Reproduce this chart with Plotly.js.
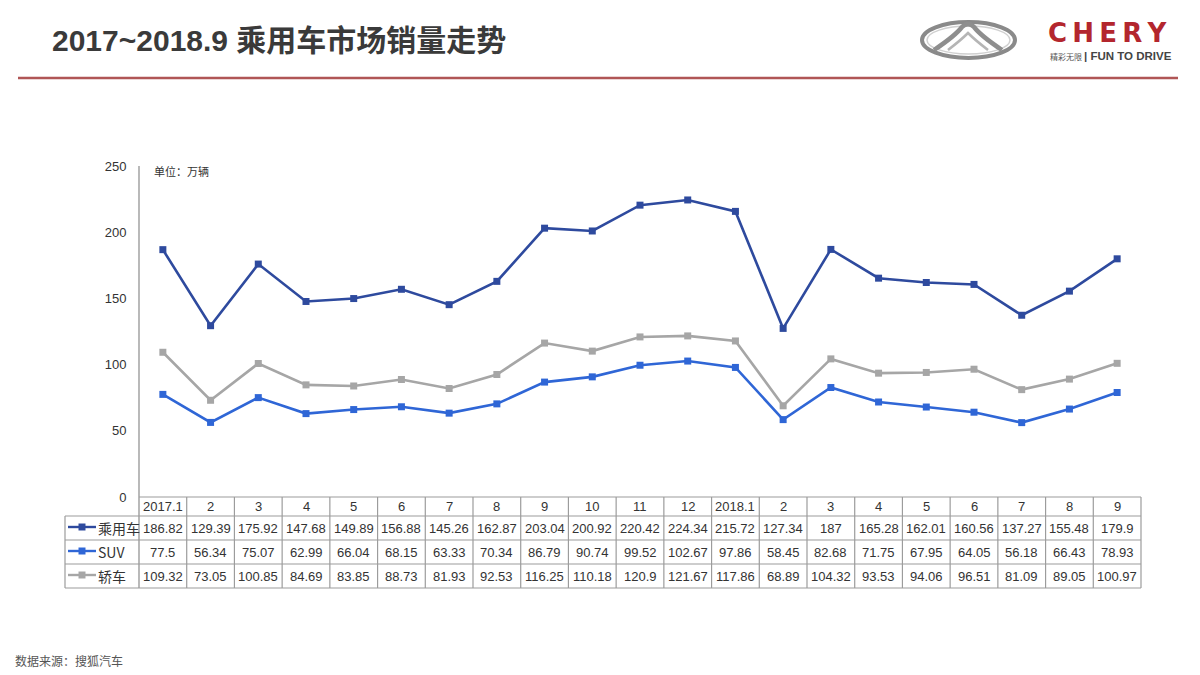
<!DOCTYPE html>
<html>
<head>
<meta charset="utf-8">
<script src="https://cdn.plot.ly/plotly-3.0.1.min.js"></script>
<style>
html,body{margin:0;padding:0;background:#fff;}
#chart{width:1200px;height:675px;}
</style>
</head>
<body>
<div id="chart"></div>
<script>
// ---- data ----
const categories = ["2017.1","2","3","4","5","6","7","8","9","10","11","12","2018.1","2","3","4","5","6","7","8","9"];
const seriesNames = ["乘用车","SUV","轿车"];
const passenger = [186.82,129.39,175.92,147.68,149.89,156.88,145.26,162.87,203.04,200.92,220.42,224.34,215.72,127.34,187,165.28,162.01,160.56,137.27,155.48,179.9];
const suv = [77.5,56.34,75.07,62.99,66.04,68.15,63.33,70.34,86.79,90.74,99.52,102.67,97.86,58.45,82.68,71.75,67.95,64.05,56.18,66.43,78.93];
const sedan = [109.32,73.05,100.85,84.69,83.85,88.73,81.93,92.53,116.25,110.18,120.9,121.67,117.86,68.89,104.32,93.53,94.06,96.51,81.09,89.05,100.97];
const yTicks = [0,50,100,150,200,250];

// ---- layout geometry (pixels) ----
const W = 1200, H = 675;
const ML = 139, MR = 59, MT = 166, MB = 178;
const PW = W - ML - MR, PH = H - MT - MB;
const X = px => (px - ML) / PW;          // pixel -> paper x
const Y = py => (MT + PH - py) / PH;     // pixel -> paper y

const colors = ["#2E4A9E", "#2F66D6", "#A6A6A6"];
const seriesData = [passenger, suv, sedan];
const xIdx = categories.map((_, i) => i);
const FONT = "'Liberation Sans', Arial, 'Noto Sans CJK SC', sans-serif";

const traces = seriesData.map((vals, k) => ({
  type: "scatter", mode: "lines+markers", name: seriesNames[k],
  x: xIdx, y: vals,
  line: {color: colors[k], width: 2.6},
  marker: {symbol: "square", size: 7, color: colors[k]},
  hoverinfo: "skip"
}));

const shapes = [];
const annotations = [];
const gridColor = "#9C9C9C";

// table row boundaries (pixels)
const rowTop = 497, headBot = 516, rowH = 24;
const rowBounds = [headBot, headBot + rowH, headBot + 2*rowH, headBot + 3*rowH];
const tableLeft = 65;

// horizontal lines
shapes.push({type:"line", xref:"paper", yref:"paper", x0:0, x1:1, y0:Y(rowTop), y1:Y(rowTop), line:{color:gridColor, width:1.2}});
rowBounds.forEach(py => {
  shapes.push({type:"line", xref:"paper", yref:"paper", x0:X(tableLeft), x1:1, y0:Y(py), y1:Y(py), line:{color:gridColor, width:1.2}});
});
// vertical lines: outer
shapes.push({type:"line", xref:"paper", yref:"paper", x0:X(tableLeft), x1:X(tableLeft), y0:Y(headBot), y1:Y(rowBounds[3]), line:{color:gridColor, width:1.2}});
shapes.push({type:"line", xref:"paper", yref:"paper", x0:0, x1:0, y0:1, y1:Y(rowBounds[3]), line:{color:gridColor, width:1.4}});
shapes.push({type:"line", xref:"paper", yref:"paper", x0:1, x1:1, y0:Y(rowTop), y1:Y(rowBounds[3]), line:{color:gridColor, width:1.2}});
// vertical lines between category columns
for (let i = 1; i < categories.length; i++) {
  shapes.push({type:"line", xref:"x", yref:"paper", x0:i-0.5, x1:i-0.5, y0:Y(rowTop), y1:Y(rowBounds[3]), line:{color:gridColor, width:1.2}});
}

// header + cell texts
const cellFont = {family: FONT, size: 13, color: "#333"};
categories.forEach((c, i) => {
  annotations.push({xref:"x", yref:"paper", x:i, y:Y((rowTop+headBot)/2), text:c, showarrow:false, font:cellFont, xanchor:"center", yanchor:"middle"});
});
seriesData.forEach((vals, k) => {
  const cy = (rowBounds[k] + rowBounds[k+1]) / 2;
  vals.forEach((v, i) => {
    annotations.push({xref:"x", yref:"paper", x:i, y:Y(cy), text:String(v), showarrow:false, font:cellFont, xanchor:"center", yanchor:"middle"});
  });
  // legend key in first column
  shapes.push({type:"line", xref:"paper", yref:"paper", x0:X(68), x1:X(96), y0:Y(cy-1), y1:Y(cy-1), line:{color:colors[k], width:2.4}});
  shapes.push({type:"rect", xref:"paper", yref:"paper", x0:X(78.5), x1:X(85.5), y0:Y(cy-4.5), y1:Y(cy+2.5), fillcolor:colors[k], line:{width:0}});
  annotations.push({xref:"paper", yref:"paper", x:X(96), y:Y(cy), text:seriesNames[k], showarrow:false, xanchor:"left", yanchor:"middle",
    font:{family:"'Noto Sans CJK SC', 'Liberation Sans', sans-serif", size:14, color:"#333"}});
});

// unit label
annotations.push({xref:"paper", yref:"paper", x:X(152), y:Y(171), text:"单位：万辆", showarrow:false, xanchor:"left", yanchor:"middle",
  font:{family:"'Noto Sans CJK SC', sans-serif", size:11, color:"#333"}});

// header title
annotations.push({xref:"paper", yref:"paper", x:X(50), y:Y(40), text:"<b>2017~2018.9 乘用车市场销量走势</b>", showarrow:false, xanchor:"left", yanchor:"middle",
  font:{family:"'Liberation Sans', 'Noto Sans CJK SC', sans-serif", size:30, color:"#3A3A3A"}});
// red separator line
shapes.push({type:"line", xref:"paper", yref:"paper", x0:X(18), x1:X(1178), y0:Y(78), y1:Y(78), line:{color:"#B05656", width:2.5}});

// logo (decorative)
shapes.push({type:"circle", xref:"paper", yref:"paper", x0:X(922), x1:X(1015), y0:Y(58), y1:Y(22), line:{color:"#8A8A8A", width:4}, fillcolor:"rgba(0,0,0,0)"});
shapes.push({type:"circle", xref:"paper", yref:"paper", x0:X(927), x1:X(1010), y0:Y(54), y1:Y(26), line:{color:"#D0D0D0", width:1.5}, fillcolor:"rgba(0,0,0,0)"});
shapes.push({type:"path", xref:"paper", yref:"paper",
  path:`M ${X(934)} ${Y(50)} Q ${X(955)} ${Y(36)} ${X(962)} ${Y(27)} Q ${X(968)} ${Y(21)} ${X(974)} ${Y(27)} Q ${X(981)} ${Y(36)} ${X(1002)} ${Y(50)}`,
  line:{color:"#8E8E8E", width:4.5}});
shapes.push({type:"path", xref:"paper", yref:"paper",
  path:`M ${X(948)} ${Y(50)} Q ${X(961)} ${Y(40)} ${X(968)} ${Y(33)} Q ${X(975)} ${Y(40)} ${X(988)} ${Y(50)}`,
  line:{color:"#B5B5B5", width:2.5}});
annotations.push({xref:"paper", yref:"paper", x:X(1046), y:Y(33), text:"<b>C\u2009H\u2009E\u2009R\u2009Y</b>", showarrow:false, xanchor:"left", yanchor:"middle",
  font:{family:"'DejaVu Sans', sans-serif", size:26, color:"#B3262E"}});
annotations.push({xref:"paper", yref:"paper", x:X(1048), y:Y(56), text:"精彩无限", showarrow:false, xanchor:"left", yanchor:"middle",
  font:{family:"'Noto Sans CJK SC', sans-serif", size:8, color:"#555"}});
annotations.push({xref:"paper", yref:"paper", x:X(1082), y:Y(56), text:"<b>| FUN TO DRIVE</b>", showarrow:false, xanchor:"left", yanchor:"middle",
  font:{family:"'Liberation Sans', sans-serif", size:11.5, color:"#444"}});

// source
annotations.push({xref:"paper", yref:"paper", x:X(13), y:Y(660), text:"数据来源：搜狐汽车", showarrow:false, xanchor:"left", yanchor:"middle",
  font:{family:"'Noto Sans CJK SC', sans-serif", size:12, color:"#555"}});

const layout = {
  width: W, height: H,
  margin: {l: ML, r: MR, t: MT, b: MB, pad: 0},
  paper_bgcolor: "#fff", plot_bgcolor: "#fff",
  showlegend: false,
  font: {family: FONT, color: "#333"},
  xaxis: {range: [-0.5, categories.length - 0.5], showticklabels: false, showgrid: false, zeroline: false,
          showline: false, ticks: "", fixedrange: true},
  yaxis: {range: [0, 250], tickvals: yTicks, showgrid: false, zeroline: false, showline: false,
          ticks: "outside", ticklen: 9, tickcolor: "rgba(0,0,0,0)",
          tickfont: {family: FONT, size: 13, color: "#333"}, fixedrange: true},
  shapes: shapes,
  annotations: annotations
};

Plotly.newPlot("chart", traces, layout, {staticPlot: true, displayModeBar: false});
</script>
</body>
</html>
